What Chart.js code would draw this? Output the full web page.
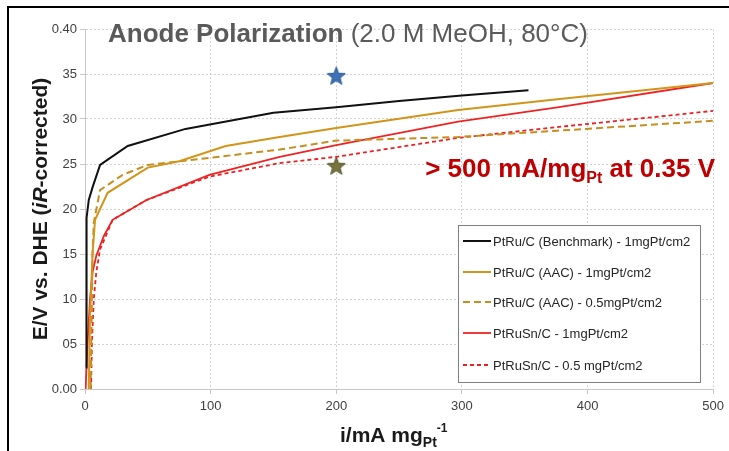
<!DOCTYPE html>
<html>
<head>
<meta charset="utf-8">
<script src="https://cdn.jsdelivr.net/npm/chart.js@4.4.1/dist/chart.umd.min.js"></script>
<style>
  html, body { margin: 0; padding: 0; background: #fff; }
  canvas { display: block; }
</style>
</head>
<body>
<canvas id="myChart" width="729" height="451"></canvas>
<script>
// DATA
const xTickLabels = ['0', '100', '200', '300', '400', '500'];
const yTickLabels = ['0.00', '05', '10', '15', '20', '25', '30', '35', '0.40'];

const seriesLabels = [
    'PtRu/C (Benchmark) - 1mgPt/cm2',
    'PtRu/C (AAC) - 1mgPt/cm2',
    'PtRu/C (AAC) - 0.5mgPt/cm2',
    'PtRuSn/C - 1mgPt/cm2',
    'PtRuSn/C - 0.5 mgPt/cm2'
];

const benchX = [0.8, 1, 1.5, 3, 6, 12, 34, 80, 150, 200, 250, 300, 353];
const benchY = [0.024, 0.10, 0.19, 0.21, 0.224, 0.249, 0.270, 0.289, 0.307, 0.313, 0.320, 0.326, 0.332];

const aac1X = [3, 4, 6, 8, 18, 50, 75, 112, 155, 200, 297, 376, 500];
const aac1Y = [0.0, 0.08, 0.15, 0.188, 0.218, 0.246, 0.253, 0.270, 0.280, 0.290, 0.310, 0.322, 0.340];

const aac05X = [4.5, 5, 6, 7, 12, 30, 50, 100, 155, 200, 297, 376, 500];
const aac05Y = [0.0, 0.05, 0.15, 0.185, 0.221, 0.238, 0.249, 0.257, 0.266, 0.276, 0.280, 0.287, 0.298];

const sn1X = [0.5, 2, 4, 6, 9, 15, 22, 49, 99, 155, 200, 297, 376, 500];
const sn1Y = [0.0, 0.05, 0.10, 0.13, 0.148, 0.17, 0.188, 0.21, 0.238, 0.258, 0.271, 0.297, 0.313, 0.340];

const sn05X = [4.8, 5.5, 7, 9, 12, 22, 49, 99, 155, 200, 297, 376, 500];
const sn05Y = [0.0, 0.05, 0.10, 0.13, 0.155, 0.188, 0.21, 0.236, 0.251, 0.258, 0.279, 0.291, 0.309];

const starX = [200];
const blueStarY = [0.348];
const oliveStarY = [0.248];

function pts(xs, ys) {
    return xs.map((x, i) => ({ x: x, y: ys[i] }));
}

function makeStar(fill, stroke) {
    const c = document.createElement('canvas');
    c.width = 20; c.height = 20;
    const g = c.getContext('2d');
    g.beginPath();
    for (let i = 0; i < 10; i++) {
        const r = i % 2 === 0 ? 9.5 : 4;
        const a = -Math.PI / 2 + i * Math.PI / 5;
        const px = 10 + r * Math.cos(a), py = 10.8 + r * Math.sin(a);
        if (i === 0) g.moveTo(px, py); else g.lineTo(px, py);
    }
    g.closePath();
    g.fillStyle = fill;
    g.fill();
    g.strokeStyle = stroke;
    g.lineWidth = 1;
    g.stroke();
    return c;
}

const FONT = '"Liberation Sans", Arial, sans-serif';

// background + frame
const framePlugin = {
    id: 'frame',
    beforeDraw(chart) {
        const c = chart.ctx;
        c.save();
        c.fillStyle = '#fff';
        c.fillRect(0, 0, chart.width, chart.height);
        c.strokeStyle = '#000';
        c.lineWidth = 2;
        c.beginPath();
        c.moveTo(729, 7);
        c.lineTo(8, 7);
        c.lineTo(8, 451);
        c.stroke();
        c.restore();
    }
};

function drawParts(c, parts, x, y) {
    parts.forEach(p => {
        c.font = p.font;
        c.fillText(p.text, x, y + (p.dy || 0));
        x += c.measureText(p.text).width;
    });
}
function partsWidth(c, parts) {
    let w = 0;
    parts.forEach(p => { c.font = p.font; w += c.measureText(p.text).width; });
    return w;
}

const textPlugin = {
    id: 'texts',
    afterDraw(chart) {
        const c = chart.ctx;
        c.save();
        c.textBaseline = 'alphabetic';
        c.textAlign = 'left';

        // title
        c.fillStyle = '#5a5a5a';
        drawParts(c, [
            { text: 'Anode Polarization', font: 'bold 26px ' + FONT },
            { text: ' (2.0 M MeOH, 80\u00B0C)', font: '26px ' + FONT }
        ], 108, 42);

        // annotation
        c.fillStyle = '#C00000';
        const ann = [
            { text: '> 500 mA/mg', font: 'bold 26px ' + FONT },
            { text: 'Pt', font: 'bold 16px ' + FONT, dy: 6 },
            { text: ' at 0.35 V', font: 'bold 26px ' + FONT }
        ];
        drawParts(c, ann, 715 - partsWidth(c, ann), 177);

        // x axis title
        c.fillStyle = '#1a1a1a';
        drawParts(c, [
            { text: 'i/mA mg', font: 'bold 21px ' + FONT },
            { text: 'Pt', font: 'bold 14px ' + FONT, dy: 5 },
            { text: '-1', font: 'bold 12px ' + FONT, dy: -10 }
        ], 340, 442);

        // y axis title
        const yt = [
            { text: 'E/V vs. DHE (', font: 'bold 21px ' + FONT },
            { text: 'iR', font: 'italic bold 21px ' + FONT },
            { text: '-corrected)', font: 'bold 21px ' + FONT }
        ];
        c.translate(47, 209);
        c.rotate(-Math.PI / 2);
        drawParts(c, yt, -partsWidth(c, yt) / 2, 0);
        c.restore();

        // legend
        c.save();
        c.fillStyle = '#fff';
        c.fillRect(458.5, 225.5, 242, 157);
        c.strokeStyle = '#7f7f7f';
        c.lineWidth = 1;
        c.strokeRect(458.5, 225.5, 242, 157);
        const rows = [241, 272, 302, 333, 365];
        chart.data.datasets.filter(ds => !ds.isStar).forEach((ds, i) => {
            const y = rows[i];
            c.strokeStyle = ds.borderColor;
            c.lineWidth = ds.borderWidth;
            c.setLineDash(ds.borderDash || []);
            c.beginPath();
            c.moveTo(463, y);
            c.lineTo(491, y);
            c.stroke();
            c.setLineDash([]);
            c.fillStyle = '#262626';
            c.font = '13px ' + FONT;
            c.textBaseline = 'middle';
            c.fillText(ds.label, 493, y + 1);
        });
        c.restore();
    }
};

const lineStyles = [
    { color: '#111111', width: 2, dash: [] },
    { color: '#D0951A', width: 2, dash: [] },
    { color: '#C58F20', width: 2, dash: [7, 4] },
    { color: '#EE2424', width: 1.8, dash: [] },
    { color: '#E82222', width: 1.8, dash: [4, 3] }
];
const seriesData = [
    pts(benchX, benchY), pts(aac1X, aac1Y), pts(aac05X, aac05Y), pts(sn1X, sn1Y), pts(sn05X, sn05Y)
];

const datasets = seriesLabels.map((label, i) => ({
    label: label,
    data: seriesData[i],
    borderColor: lineStyles[i].color,
    borderWidth: lineStyles[i].width,
    borderDash: lineStyles[i].dash,
    pointRadius: 0,
    tension: 0,
    fill: false,
    showLine: true
}));
datasets.push({
    label: 'blue star', isStar: true, data: pts(starX, blueStarY), showLine: false,
    pointStyle: makeStar('#3D72B8', '#2A5590'), pointRadius: 10
});
datasets.push({
    label: 'olive star', isStar: true, data: pts(starX, oliveStarY), showLine: false,
    pointStyle: makeStar('#77743E', '#54522A'), pointRadius: 10
});

const ctx = document.getElementById('myChart').getContext('2d');
new Chart(ctx, {
    type: 'scatter',
    data: { datasets: datasets },
    options: {
        responsive: false,
        animation: false,
        layout: { padding: { left: 0, top: 29, right: 13, bottom: 0 } },
        plugins: { legend: { display: false }, tooltip: { enabled: false } },
        scales: {
            x: {
                type: 'linear', min: 0, max: 500,
                afterFit: s => { s.height = 62; },
                afterBuildTicks: s => { s.ticks = xTickLabels.map((t, i) => ({ value: i * 100 })); },
                ticks: {
                    padding: 5, color: '#404040', font: { family: FONT, size: 13 },
                    callback: (v, i) => xTickLabels[i]
                },
                grid: { color: '#d2d2d2', tickLength: 5, tickColor: '#c8c8c8', tickBorderDash: [] },
                border: { color: '#c8c8c8', width: 1, dash: [2, 2] }
            },
            y: {
                type: 'linear', min: 0, max: 0.40,
                afterFit: s => { s.width = 85; },
                afterBuildTicks: s => { s.ticks = yTickLabels.map((t, i) => ({ value: i * 0.05 })); },
                ticks: {
                    padding: 3, color: '#404040', font: { family: FONT, size: 13 },
                    callback: (v, i) => yTickLabels[i]
                },
                grid: { color: '#d2d2d2', tickLength: 5, tickColor: '#c8c8c8', tickBorderDash: [] },
                border: { color: '#c8c8c8', width: 1, dash: [2, 2] }
            }
        }
    },
    plugins: [framePlugin, textPlugin]
});
</script>
</body>
</html>
